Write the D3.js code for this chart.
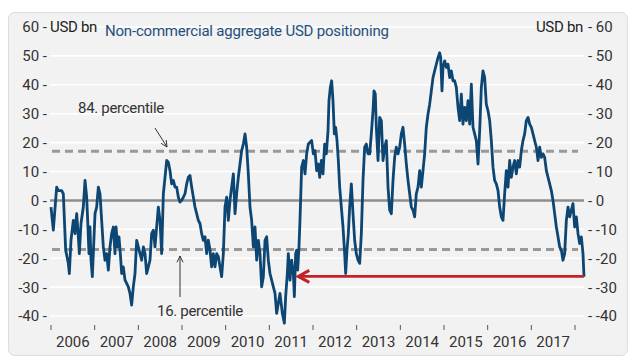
<!DOCTYPE html>
<html>
<head>
<meta charset="utf-8">
<script src="https://cdn.jsdelivr.net/npm/d3@7"></script>
<style>
  html, body { margin: 0; padding: 0; background: #fff; }
  svg { display: block; }
  text { font-family: Roboto, "Open Sans", sans-serif; }
</style>
</head>
<body>
<svg id="chart" width="640" height="364"></svg>
<script>
// ---- data (decimal year, USD bn) ----
const years = [
2006.000,2006.053,2006.130,2006.168,2006.244,2006.282,2006.336,2006.397,2006.420,2006.458,
2006.511,2006.550,2006.588,2006.626,2006.649,2006.687,2006.740,2006.779,2006.817,2006.840,
2006.870,2006.893,2006.916,2006.947,2006.969,2007.008,2007.046,2007.084,2007.122,2007.160,
2007.198,2007.237,2007.275,2007.313,2007.351,2007.389,2007.427,2007.466,2007.489,2007.527,
2007.557,2007.588,2007.618,2007.656,2007.695,2007.733,2007.771,2007.809,2007.847,2007.885,
2007.924,2007.962,2008.000,2008.038,2008.076,2008.115,2008.153,2008.191,2008.229,2008.267,
2008.305,2008.344,2008.382,2008.420,2008.458,2008.496,2008.534,2008.573,2008.611,2008.649,
2008.687,2008.725,2008.763,2008.802,2008.840,2008.878,2008.916,2008.954,2008.992,2009.031,
2009.069,2009.107,2009.145,2009.183,2009.221,2009.260,2009.298,2009.336,2009.374,2009.412,
2009.450,2009.489,2009.527,2009.565,2009.603,2009.641,2009.679,2009.718,2009.756,2009.794,
2009.832,2009.908,2009.947,2009.985,2010.023,2010.061,2010.099,2010.137,2010.176,2010.214,
2010.252,2010.290,2010.328,2010.366,2010.405,2010.443,2010.481,2010.519,2010.557,2010.595,
2010.634,2010.672,2010.710,2010.748,2010.786,2010.824,2010.863,2010.901,2010.939,2010.977,
2011.015,2011.092,2011.130,2011.168,2011.206,2011.244,2011.298,2011.344,2011.374,2011.412,
2011.435,2011.473,2011.511,2011.550,2011.573,2011.603,2011.626,2011.649,2011.679,2011.702,
2011.740,2011.779,2011.817,2011.855,2011.893,2011.969,2012.008,2012.046,2012.084,2012.122,
2012.153,2012.191,2012.229,2012.267,2012.305,2012.344,2012.366,2012.397,2012.427,2012.458,
2012.489,2012.519,2012.550,2012.580,2012.611,2012.649,2012.687,2012.725,2012.748,2012.779,
2012.809,2012.840,2012.878,2012.916,2012.954,2012.992,2013.031,2013.069,2013.107,2013.145,
2013.183,2013.221,2013.260,2013.298,2013.336,2013.374,2013.397,2013.427,2013.450,2013.489,
2013.527,2013.565,2013.603,2013.641,2013.679,2013.718,2013.756,2013.794,2013.832,2013.870,
2013.908,2013.947,2013.985,2014.023,2014.061,2014.099,2014.137,2014.176,2014.214,2014.252,
2014.290,2014.328,2014.366,2014.405,2014.443,2014.481,2014.519,2014.557,2014.595,2014.634,
2014.672,2014.710,2014.748,2014.786,2014.824,2014.863,2014.901,2014.924,2014.954,2014.977,
2015.015,2015.053,2015.092,2015.130,2015.168,2015.206,2015.244,2015.282,2015.321,2015.359,
2015.397,2015.435,2015.473,2015.511,2015.550,2015.588,2015.626,2015.664,2015.702,2015.740,
2015.779,2015.817,2015.855,2015.893,2015.931,2015.969,2016.008,2016.046,2016.084,2016.122,
2016.160,2016.198,2016.237,2016.275,2016.313,2016.351,2016.389,2016.427,2016.466,2016.504,
2016.542,2016.580,2016.618,2016.656,2016.695,2016.733,2016.771,2016.809,2016.847,2016.885,
2016.924,2016.962,2017.000,2017.038,2017.076,2017.115,2017.153,2017.191,2017.229,2017.267,
2017.305,2017.344,2017.382,2017.420,2017.458,2017.496,2017.534,2017.573,2017.611,2017.649,
2017.687,2017.725,2017.763,2017.802,2017.840,2017.878,2017.916,2017.954,2017.992,2018.031,
2018.069,2018.107,2018.145,2018.183,2018.206
];
const positions = [
-2.3,-10.3,4.6,3.4,3.4,2.3,-17.2,-21.8,-25.3,-13.8,
-6.9,-11.5,-4.6,-12.6,-18.4,-8.0,-2.3,6.9,1.1,-6.9,
-18.4,-9.2,-20.7,-26.4,-18.4,-4.6,-2.3,4.6,2.3,-6.9,
-16.1,-20.7,-18.4,-24.1,-16.1,-11.5,-9.2,-18.4,-9.2,-16.1,
-12.6,-18.4,-25.3,-23.0,-27.6,-28.7,-29.9,-32.2,-36.2,-29.9,
-25.3,-13.8,-16.1,-18.4,-20.7,-16.1,-18.4,-25.3,-23.0,-20.7,
-11.5,-10.3,-16.1,-9.2,-2.3,-6.9,-18.4,2.3,8.0,13.8,
13.2,10.3,5.7,6.9,4.6,4.6,1.1,-0.6,0,1.1,
2.3,5.7,8.0,8.6,4.6,1.1,-2.3,-4.6,-6.9,-8.0,
-11.5,-13.8,-12.6,-18.4,-13.8,-17.2,-23.0,-18.4,-23.0,-18.4,
-19.5,-26.4,-18.4,-2.3,1.1,-6.9,0,4.6,9.2,-4.6,
2.3,8.0,12.6,17.2,19.5,23.0,18.4,9.2,-2.3,-6.9,
-16.1,-9.2,-20.7,-13.8,-18.4,-29.9,-26.4,-13.8,-12.6,-20.7,
-25.3,-29.9,-32.2,-39.1,-35.6,-32.2,-39.1,-42.5,-33.3,-25.3,
-18.4,-27.6,-20.7,-25.3,-33.3,-18.4,-17.2,-24.1,-16.1,-6.9,
11.5,13.8,9.2,16.1,19.5,20.7,16.1,17.2,10.3,12.6,
8.0,13.8,9.2,19.5,16.1,24.1,34.5,39.1,41.4,34.5,
23.0,25.3,20.7,13.8,4.6,-2.3,-9.2,-18.4,-25.3,-17.2,
-11.5,-2.3,5.7,-4.6,-13.8,-18.4,-20.7,-21.8,-11.5,6.9,
18.4,19.5,16.1,16.1,23.0,31.0,37.9,36.8,25.3,13.8,
28.7,27.6,13.8,18.4,20.7,4.6,-3.4,-4.6,6.9,14.9,
18.4,16.1,18.4,23.0,25.3,19.5,12.6,6.9,2.3,-2.3,
-3.4,-5.7,2.3,4.6,10.3,4.6,10.3,16.1,25.3,29.9,
33.3,37.9,42.5,44.8,47.1,49.4,51.1,49.4,37.9,46.0,
48.3,46.0,47.1,42.5,44.8,41.4,41.4,39.1,32.2,27.6,
36.8,26.4,32.2,27.6,34.5,26.4,40.2,25.3,23.0,20.7,
12.6,24.1,39.1,44.8,42.5,33.3,31.0,27.6,20.7,11.5,
6.9,5.7,3.4,-2.3,-5.7,-6.9,2.3,10.3,4.6,13.8,
8.0,11.5,13.8,9.2,13.8,11.5,17.2,20.7,23.0,27.6,
28.7,26.4,25.3,23.0,20.7,18.4,13.8,18.4,14.9,16.1,
14.9,10.3,8.0,5.7,3.4,0,-4.6,-9.2,-12.6,-16.1,
-17.2,-20.7,-18.4,-6.9,-2.3,-5.7,-3.4,-1.1,-9.2,-5.7,
-11.5,-14.9,-12.6,-18.4,-26.4
];
const yTicks = [-40, -30, -20, -10, 0, 10, 20, 30, 40, 50, 60];
const yearLabels = ["2006","2007","2008","2009","2010","2011","2012","2013","2014","2015","2016","2017"];
const percentiles = [{label: "84. percentile", value: 17}, {label: "16. percentile", value: -17}];
const latestLow = -26.3;   // red arrow level
const latestLowStart = 2011.64;
const titleText = "Non-commercial aggregate USD positioning";
const unitText = "USD bn";

// ---- drawing ----
const svg = d3.select("#chart");
const x = d3.scaleLinear().domain([2006, 2018]).range([51, 575]);
const y = d3.scaleLinear().domain([-40, 60]).range([316, 27]);

const plotLeft = 50, plotRight = 584;

// panel
svg.append("rect").attr("x", 8.5).attr("y", 12.5).attr("width", 619).attr("height", 343)
  .attr("rx", 6).attr("fill", "#f2f2f2").attr("stroke", "#dcdcdc");

// gridlines
svg.append("g").selectAll("line").data(yTicks).join("line")
  .attr("x1", plotLeft).attr("x2", plotRight)
  .attr("y1", d => y(d)).attr("y2", d => y(d))
  .attr("stroke", "#ffffff").attr("stroke-width", 1.6);

// left tick labels
svg.append("g").selectAll("text").data(yTicks).join("text")
  .attr("x", 47).attr("y", d => y(d)).attr("dy", "0.36em")
  .attr("text-anchor", "end").attr("font-size", 15).attr("fill", "#333")
  .text(d => d + " -");
// right tick labels
svg.append("g").selectAll("text").data(yTicks).join("text")
  .attr("x", 588).attr("y", d => y(d)).attr("dy", "0.36em")
  .attr("text-anchor", "start").attr("font-size", 15).attr("fill", "#333")
  .text(d => "- " + d);

// unit + title
svg.append("text").attr("x", 50).attr("y", y(60)).attr("dy", "0.36em")
  .attr("font-size", 15).attr("fill", "#222").attr("letter-spacing", -0.3).text(unitText);
svg.append("text").attr("x", 583).attr("y", y(60)).attr("dy", "0.36em").attr("text-anchor", "end")
  .attr("font-size", 15).attr("fill", "#222").attr("letter-spacing", -0.3).text(unitText);
svg.append("text").attr("x", 105).attr("y", y(60) + 4).attr("dy", "0.36em")
  .attr("font-size", 15).attr("fill", "#1f4f7d").attr("letter-spacing", -0.2).text(titleText);

// x axis ticks and labels
const tickYears = d3.range(2006, 2019);
svg.append("g").selectAll("line").data(tickYears).join("line")
  .attr("x1", d => x(d)).attr("x2", d => x(d)).attr("y1", 325).attr("y2", 330)
  .attr("stroke", "#555").attr("stroke-width", 1);
svg.append("g").selectAll("text").data(yearLabels).join("text")
  .attr("x", d => x(+d + 0.5)).attr("y", 347).attr("text-anchor", "middle")
  .attr("font-size", 15).attr("fill", "#333").text(d => d);

// percentile dashed lines
svg.append("g").selectAll("line").data(percentiles).join("line")
  .attr("x1", 52).attr("x2", 578)
  .attr("y1", d => y(d.value)).attr("y2", d => y(d.value))
  .attr("stroke", "#999").attr("stroke-width", 3).attr("stroke-dasharray", "8,5");

// zero line
svg.append("line").attr("x1", plotLeft).attr("x2", plotRight)
  .attr("y1", y(0)).attr("y2", y(0)).attr("stroke", "#8c8c8c").attr("stroke-width", 2.5);

// series line
const data = years.map((yr, i) => ({yr, v: positions[i]}));
svg.append("path").datum(data)
  .attr("fill", "none").attr("stroke", "#0d4673").attr("stroke-width", 2.8)
  .attr("stroke-linejoin", "round")
  .attr("d", d3.line().x(d => x(d.yr)).y(d => y(d.v)));

// red arrow
const ax = x(latestLowStart), ay = y(latestLow);
svg.append("line")
  .attr("x1", x(years[years.length - 1])).attr("x2", ax + 2)
  .attr("y1", ay).attr("y2", ay)
  .attr("stroke", "#c42128").attr("stroke-width", 2.6);
svg.append("path")
  .attr("d", `M${ax + 12},${ay - 6} L${ax + 1},${ay} L${ax + 12},${ay + 6}`)
  .attr("fill", "none").attr("stroke", "#c42128").attr("stroke-width", 3)
  .attr("stroke-linejoin", "miter");

// annotations
svg.append("text").attr("x", 78).attr("y", 113).attr("font-size", 15).attr("fill", "#333")
  .attr("letter-spacing", -0.3).text(percentiles[0].label);
svg.append("text").attr("x", 157).attr("y", 316).attr("font-size", 15).attr("fill", "#333")
  .attr("letter-spacing", -0.3).text(percentiles[1].label);

function thinArrow(x1, y1, x2, y2) {
  svg.append("line").attr("x1", x1).attr("y1", y1).attr("x2", x2).attr("y2", y2)
    .attr("stroke", "#333").attr("stroke-width", 1);
  const ang = Math.atan2(y2 - y1, x2 - x1), L = 7, w = 0.45;
  const p1 = [x2 - L * Math.cos(ang - w), y2 - L * Math.sin(ang - w)];
  const p2 = [x2 - L * Math.cos(ang + w), y2 - L * Math.sin(ang + w)];
  svg.append("path").attr("d", `M${p1[0]},${p1[1]} L${x2},${y2} L${p2[0]},${p2[1]}`)
    .attr("fill", "none").attr("stroke", "#333").attr("stroke-width", 1);
}
thinArrow(155, 128, 167, 147);
thinArrow(180, 297, 180, 256);
</script>
</body>
</html>
